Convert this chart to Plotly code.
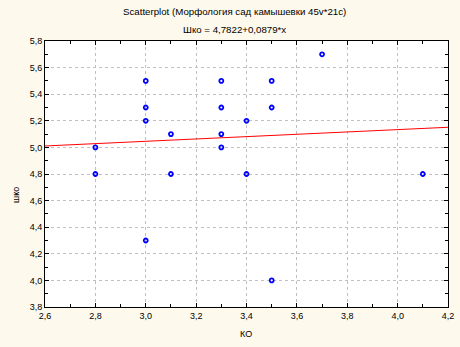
import plotly.graph_objects as go

ko = [2.8, 2.8, 3.0, 3.0, 3.0, 3.0, 3.1, 3.1, 3.3, 3.3, 3.3, 3.3, 3.4, 3.4, 3.5, 3.5, 3.5, 3.7, 4.1]
shko = [5.0, 4.8, 5.5, 5.3, 5.2, 4.3, 5.1, 4.8, 5.5, 5.3, 5.1, 5.0, 5.2, 4.8, 5.5, 5.3, 4.0, 5.7, 4.8]
intercept = 4.7822
slope = 0.0879
x_range = [2.6, 4.2]
y_range = [3.8, 5.8]
x_ticks = [2.6, 2.8, 3.0, 3.2, 3.4, 3.6, 3.8, 4.0, 4.2]
y_ticks = [3.8, 4.0, 4.2, 4.4, 4.6, 4.8, 5.0, 5.2, 5.4, 5.6, 5.8]

fit_y = [intercept + slope * v for v in x_range]

fig = go.Figure()
fig.add_trace(go.Scatter(x=x_range, y=fit_y, mode="lines",
                         line=dict(color="#FF0000", width=1), hoverinfo="skip"))
fig.add_trace(go.Scatter(x=ko, y=shko, mode="markers",
                         marker=dict(symbol="circle-open", size=4, color="#0000FF",
                                     line=dict(width=1.8, color="#0000FF"))))

font = dict(family="Liberation Sans, Arial, sans-serif", size=9, color="#000000")
axis_common = dict(showline=True, linecolor="#000000", linewidth=1, mirror="ticks",
                   ticks="inside", ticklen=4, tickcolor="#000000",
                   showgrid=True, gridcolor="#C0C0C0", griddash="dot", gridwidth=1,
                   zeroline=False, tickfont=font, automargin=False,
                   minor=dict(ticks="inside", ticklen=3, tickcolor="#000000", showgrid=False))

fig.update_xaxes(range=x_range, tickvals=x_ticks, tickformat=".1f", **axis_common)
fig.update_yaxes(range=y_range, tickvals=y_ticks, tickformat=".1f", **axis_common)
fig.update_xaxes(minor=dict(dtick=0.1, tick0=2.6))
fig.update_yaxes(minor=dict(dtick=0.1, tick0=3.8))

fig.update_layout(
    width=460, height=347,
    margin=dict(l=45, r=12, t=41, b=40),
    paper_bgcolor="#FDF9EC", plot_bgcolor="#FFFFFF",
    showlegend=False,
    separators=", ",
    font=font,
)
title_font = dict(family="Liberation Sans, Arial, sans-serif", size=9.7, color="#000000")
fig.add_annotation(text="Scatterplot (Морфология сад камышевки 45v*21c)", xref="paper", yref="paper",
                   x=(234 - 45) / 403, y=1 + (41 - 12) / 266, showarrow=False, font=title_font,
                   xanchor="center", yanchor="middle")
fig.add_annotation(text="Шко = 4,7822+0,0879*x", xref="paper", yref="paper",
                   x=(234 - 45) / 403, y=1 + (41 - 29) / 266, showarrow=False, font=title_font,
                   xanchor="center", yanchor="middle")
fig.add_annotation(text="шко", xref="paper", yref="paper", textangle=-90,
                   x=(16 - 45) / 403, y=(307 - 195) / 266, showarrow=False, font=font,
                   xanchor="center", yanchor="middle")
fig.add_annotation(text="КО", xref="paper", yref="paper",
                   x=(246 - 45) / 403, y=(307 - 334) / 266, showarrow=False, font=font,
                   xanchor="center", yanchor="middle")

fig.write_html("out.html")
